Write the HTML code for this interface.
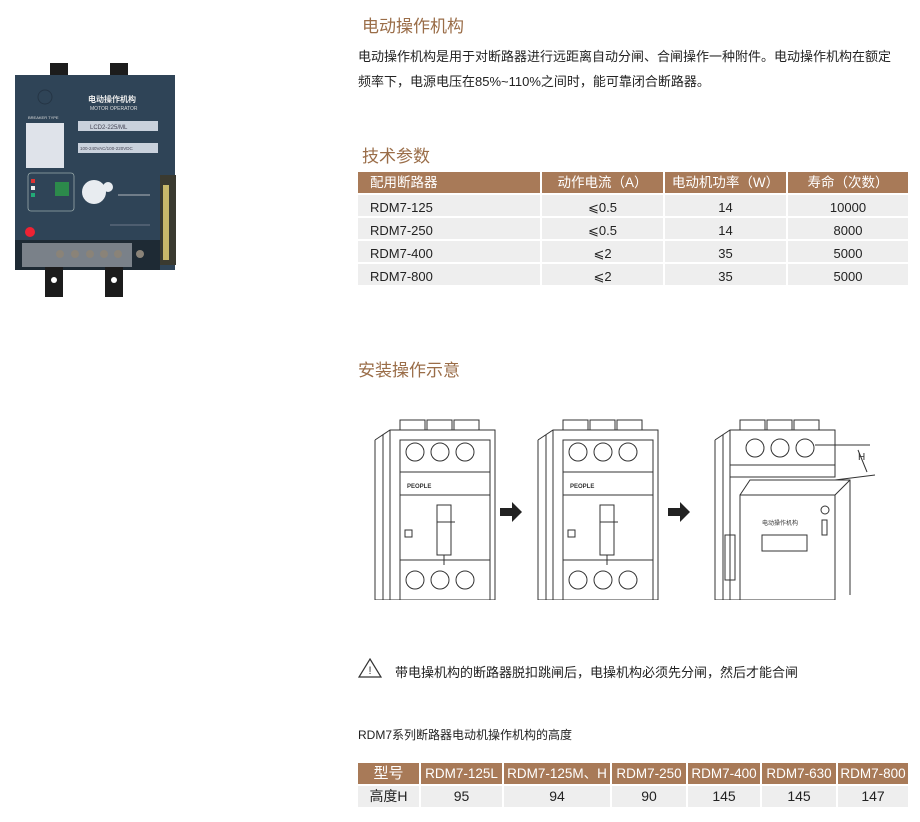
<!DOCTYPE html>
<html><head><meta charset="utf-8"><style>
*{margin:0;padding:0;box-sizing:border-box}
body{width:920px;height:822px;background:#fff;position:relative;font-family:"Liberation Sans","Noto Sans CJK SC",sans-serif;color:#222;overflow:hidden}
.a{position:absolute;white-space:nowrap}
.t{font-size:17px;color:#9a6d48}
.p{font-size:13px;color:#222}
table{position:absolute;border-collapse:separate;border-spacing:2px;font-size:13px}
td{background:#eeeeee;height:21px;text-align:center;padding:0;line-height:21px;vertical-align:middle}
th{background:#a87a58;color:#fff;font-weight:normal;height:21px;font-size:13.5px;line-height:21px;vertical-align:middle;white-space:nowrap}
.d td span{position:relative;top:2px}
</style></head><body>

<div class="a t" style="left:362px;top:12px">电动操作机构</div>
<div class="a p" style="left:358px;top:46px">电动操作机构是用于对断路器进行远距离自动分闸、合闸操作一种附件。电动操作机构在额定</div>
<div class="a p" style="left:358px;top:71px">频率下，电源电压在85%~110%之间时，能可靠闭合断路器。</div>

<div class="a t" style="left:362px;top:142px">技术参数</div>
<table class="d" style="left:356px;top:170px;width:554px">
<tr><th style="width:182px;text-align:left;padding-left:12px">配用断路器</th><th style="width:121px">动作电流（A）</th><th style="width:121px">电动机功率（W）</th><th>寿命（次数）</th></tr>
<tr><td style="text-align:left;padding-left:12px"><span>RDM7-125</span></td><td><span>⩽0.5</span></td><td><span>14</span></td><td><span>10000</span></td></tr>
<tr><td style="text-align:left;padding-left:12px"><span>RDM7-250</span></td><td><span>⩽0.5</span></td><td><span>14</span></td><td><span>8000</span></td></tr>
<tr><td style="text-align:left;padding-left:12px"><span>RDM7-400</span></td><td><span>⩽2</span></td><td><span>35</span></td><td><span>5000</span></td></tr>
<tr><td style="text-align:left;padding-left:12px"><span>RDM7-800</span></td><td><span>⩽2</span></td><td><span>35</span></td><td><span>5000</span></td></tr>
</table>

<div class="a t" style="left:358px;top:356px">安装操作示意</div>

<!-- product photo -->
<svg class="a" style="left:0;top:55px" width="190" height="250" viewBox="0 0 190 250">
<rect x="50" y="8" width="18" height="16" fill="#1c1c1c"/><rect x="110" y="8" width="18" height="16" fill="#1c1c1c"/>
<rect x="15" y="20" width="160" height="195" fill="#2f4457"/>
<circle cx="45" cy="42" r="7" fill="none" stroke="#253545"/>
<rect x="160" y="120" width="16" height="90" fill="#3a3a30"/><rect x="163" y="130" width="6" height="75" fill="#c9b86a"/>
<rect x="26" y="68" width="38" height="45" fill="#dfe3ea"/>
<text x="28" y="64" font-size="4" fill="#ddd" font-family="Liberation Sans">BREAKER TYPE</text>
<text x="88" y="47" font-size="8" fill="#eee" font-family="Noto Sans CJK SC" font-weight="bold">电动操作机构</text>
<text x="90" y="55" font-size="5" fill="#ddd" font-family="Liberation Sans">MOTOR OPERATOR</text>
<rect x="78" y="66" width="80" height="10" fill="#c9d1dc"/><text x="90" y="74" font-size="6" fill="#445" font-family="Liberation Sans">LCD2-225/ML</text>
<rect x="78" y="88" width="80" height="10" fill="#c9d1dc"/><text x="80" y="95" font-size="4.5" fill="#445" font-family="Liberation Sans">100-240VAC/100-220VDC</text>
<rect x="28" y="118" width="46" height="38" rx="3" fill="none" stroke="#9aa" stroke-width="0.8"/>
<rect x="55" y="127" width="14" height="14" fill="#2c8a4b"/>
<rect x="31" y="124" width="4" height="4" fill="#d33"/><rect x="31" y="131" width="4" height="4" fill="#eee"/><rect x="31" y="138" width="4" height="4" fill="#2a7"/>
<circle cx="94" cy="137" r="12" fill="#e8ecf0"/><circle cx="108" cy="132" r="5" fill="#e8ecf0"/>
<line x1="118" y1="140" x2="150" y2="140" stroke="#ddd" stroke-width="0.8"/>
<line x1="110" y1="170" x2="150" y2="170" stroke="#aab" stroke-width="0.6"/>
<circle cx="30" cy="177" r="5" fill="#e23"/>
<rect x="15" y="185" width="145" height="30" fill="#1e2a34"/>
<rect x="22" y="188" width="110" height="24" fill="#b7bdc3" opacity="0.6"/>
<g fill="#8a8378"><circle cx="60" cy="199" r="4"/><circle cx="75" cy="199" r="4"/><circle cx="90" cy="199" r="4"/><circle cx="104" cy="199" r="4"/><circle cx="118" cy="199" r="4"/><circle cx="140" cy="199" r="4"/></g>
<rect x="45" y="212" width="18" height="30" fill="#1c1c1c"/><rect x="105" y="212" width="18" height="30" fill="#1c1c1c"/>
<circle cx="54" cy="225" r="3" fill="#fff"/><circle cx="114" cy="225" r="3" fill="#fff"/>
</svg>

<!-- breakers -->
<svg class="a" style="left:355px;top:400px" width="560" height="200" viewBox="0 0 560 200" fill="none" stroke="#333" stroke-width="1">
<g id="b1">
<path d="M20 40 L35 30 L140 30 L140 200 M20 40 L20 200 L140 200 M35 30 L35 200 M28 35 L28 200"/>
<path d="M45 30 L45 20 L70 20 L70 30 M72 30 L72 20 L97 20 L97 30 M99 30 L99 20 L124 20 L124 30"/>
<rect x="45" y="40" width="90" height="160"/>
<line x1="45" y1="72" x2="135" y2="72"/>
<line x1="45" y1="95" x2="135" y2="95"/>
<line x1="45" y1="160" x2="135" y2="160"/>
<circle cx="60" cy="52" r="9"/><circle cx="85" cy="52" r="9"/><circle cx="110" cy="52" r="9"/>
<circle cx="60" cy="180" r="9"/><circle cx="85" cy="180" r="9"/><circle cx="110" cy="180" r="9"/>
<rect x="82" y="105" width="14" height="50"/><line x1="82" y1="122" x2="100" y2="122"/><line x1="89" y1="155" x2="89" y2="165"/>
<rect x="50" y="130" width="7" height="7"/>
<text x="52" y="88" font-size="6" fill="#333" stroke="none" font-family="Liberation Sans" font-weight="bold">PEOPLE</text>
</g>
<use href="#b1" x="163"/>
<g transform="translate(340,0)">
<path d="M20 40 L35 30 L140 30 L140 70 M20 40 L20 200 L140 200 M35 30 L35 200 M28 35 L28 200"/>
<path d="M45 30 L45 20 L70 20 L70 30 M72 30 L72 20 L97 20 L97 30 M99 30 L99 20 L124 20 L124 30"/>
<circle cx="60" cy="48" r="9"/><circle cx="85" cy="48" r="9"/><circle cx="110" cy="48" r="9"/>
<rect x="35" y="65" width="105" height="12"/>
<path d="M45 95 L55 80 L155 80 L155 195 M45 95 L140 95 L140 200 L45 200 Z M140 95 L155 80"/>
<rect x="30" y="135" width="10" height="45"/>
<text x="67" y="125" font-size="6" fill="#333" stroke="none" font-family="Noto Sans CJK SC">电动操作机构</text>
<rect x="67" y="135" width="45" height="16"/>
<circle cx="130" cy="110" r="4"/><rect x="127" y="120" width="5" height="15"/>
<path d="M120 45 L175 45 M140 80 L180 75 M163 50 L172 72"/>
<text x="163" y="60" font-size="10" fill="#333" stroke="none" font-family="Liberation Sans">H</text>
</g>
<path d="M145 108 h12 v-6 l10 10 -10 10 v-6 h-12z M313 108 h12 v-6 l10 10 -10 10 v-6 h-12z" fill="#222" stroke="none"/>
</svg>

<svg class="a" style="left:357px;top:657px" width="26" height="22" viewBox="0 0 26 22"><path d="M13 2 L24 20 L2 20 Z" fill="none" stroke="#333" stroke-width="1.2"/><text x="11.5" y="17" font-size="11" fill="#333" font-family="Liberation Sans">!</text></svg>
<div class="a p" style="left:395px;top:662px">带电操机构的断路器脱扣跳闸后，电操机构必须先分闸，然后才能合闸</div>

<div class="a" style="left:358px;top:726px;font-size:12px">RDM7系列断路器电动机操作机构的高度</div>
<table style="left:356px;top:761px;width:554px;font-size:14px">
<tr><th style="width:61px;font-size:15px">型号</th><th style="width:81px">RDM7-125L</th><th style="width:106px">RDM7-125M、H</th><th style="width:74px">RDM7-250</th><th style="width:72px">RDM7-400</th><th style="width:74px">RDM7-630</th><th>RDM7-800</th></tr>
<tr><td>高度H</td><td>95</td><td>94</td><td>90</td><td>145</td><td>145</td><td>147</td></tr>
</table>
</body></html>
